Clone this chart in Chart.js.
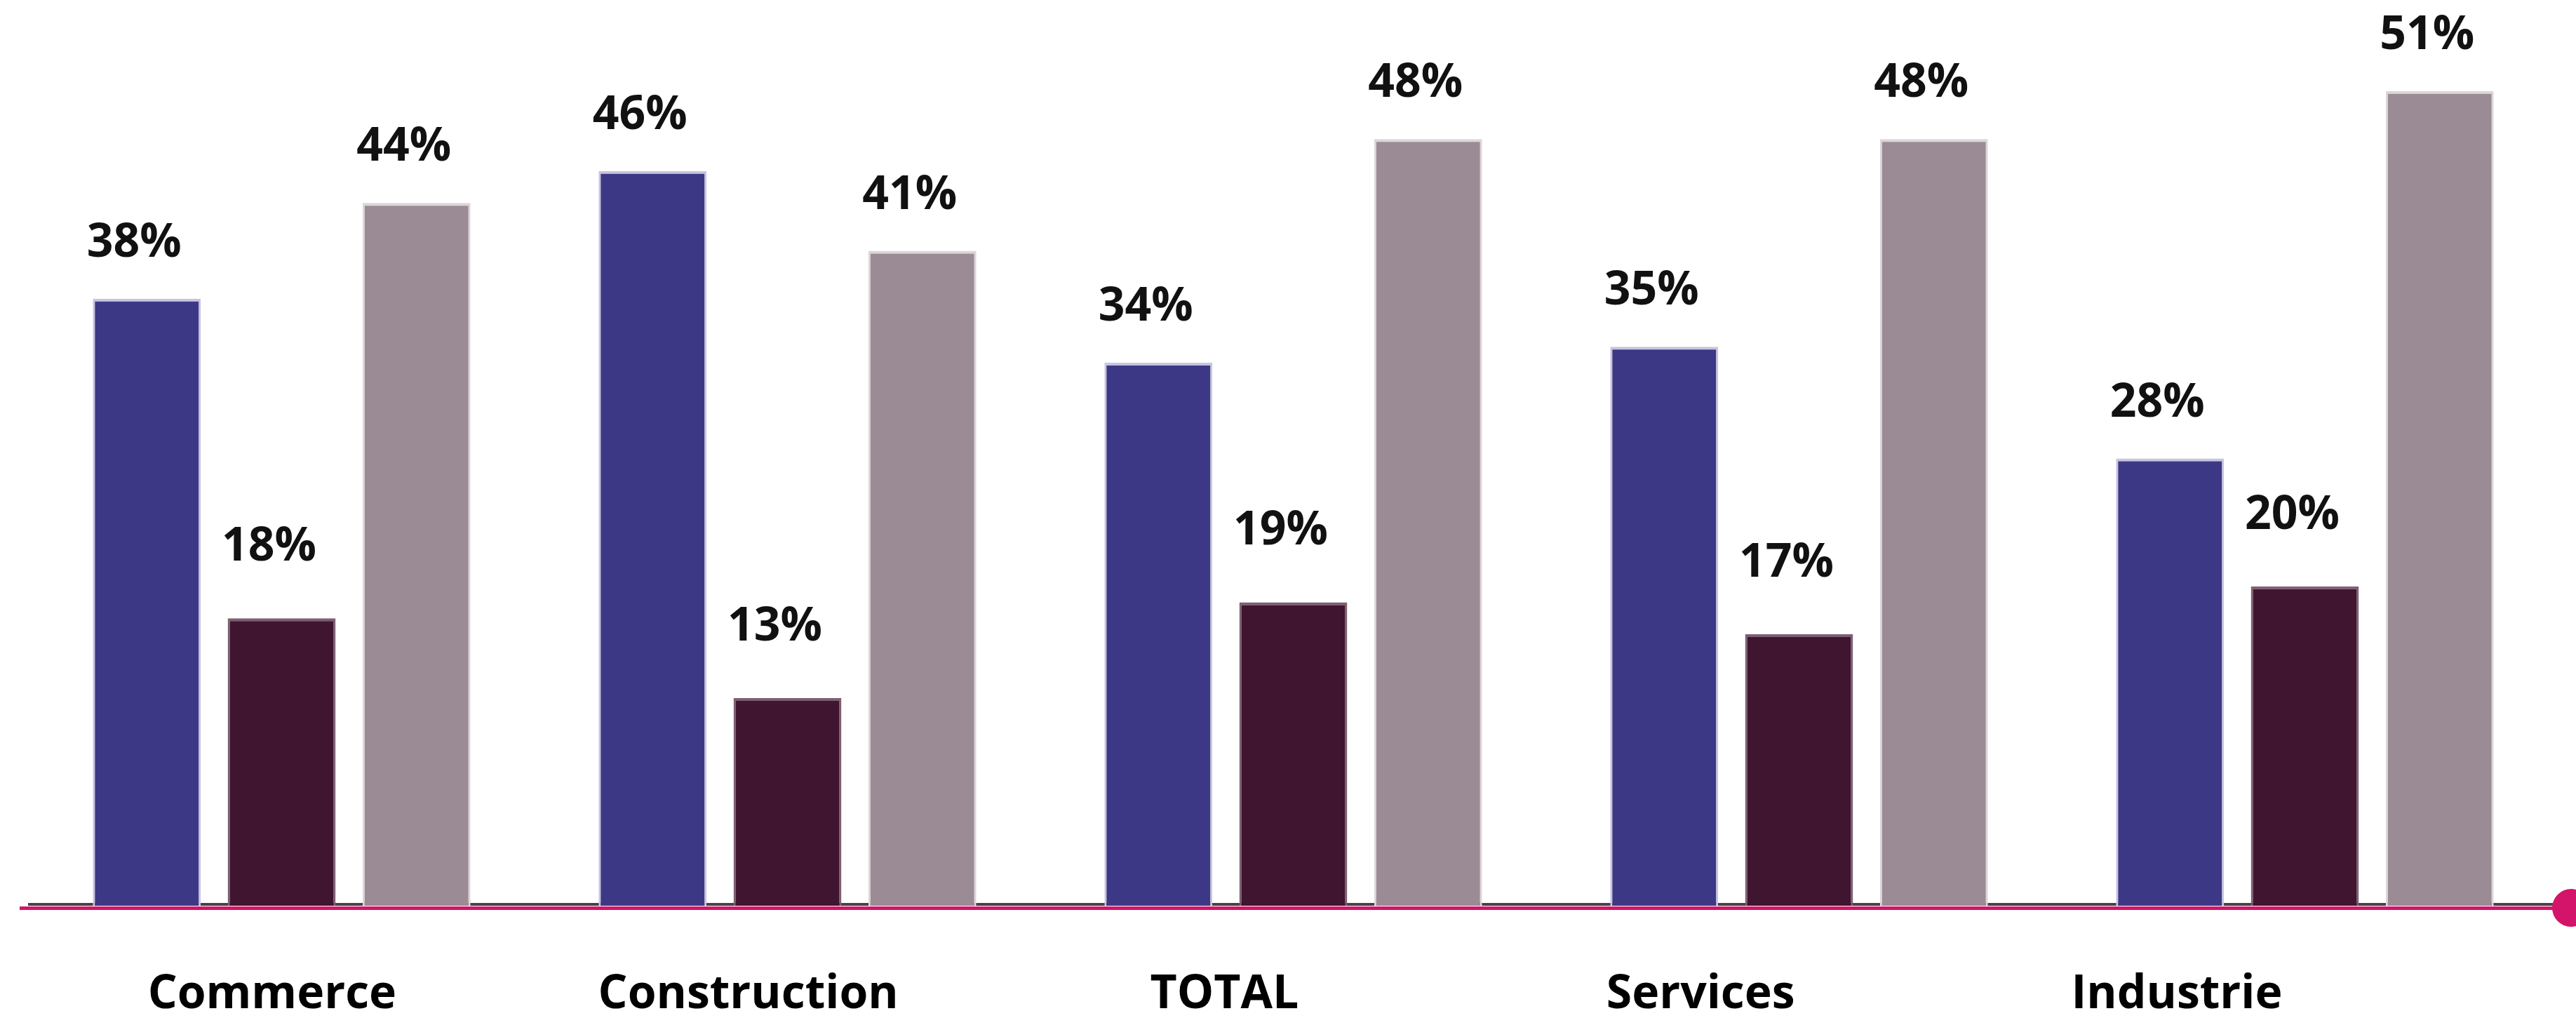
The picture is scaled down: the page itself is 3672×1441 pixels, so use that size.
<!DOCTYPE html>
<html>
<head>
<meta charset="utf-8">
<script src="https://cdn.jsdelivr.net/npm/chart.js@4"></script>
<style>
  html, body { margin: 0; padding: 0; background: #fff; }
  #wrap { width: 3672px; height: 1441px; position: relative; }
</style>
</head>
<body>
<div id="wrap"><canvas id="chart"></canvas></div>
<script>
const categories = ['Commerce', 'Construction', 'TOTAL', 'Services', 'Industrie'];
const seriesA = [38, 46, 34, 35, 28];
const seriesB = [18, 13, 19, 17, 20];
const seriesC = [44, 41, 48, 48, 51];

const labelFont = '700 66px "Open Sans", sans-serif';

// axis lines under the bars, pink rule with end dot
const axisLines = {
  id: 'axisLines',
  beforeDatasetsDraw(chart) {
    const { ctx, chartArea } = chart;
    ctx.save();
    ctx.fillStyle = '#444444';
    ctx.fillRect(chartArea.left - 1, chartArea.bottom - 4, chartArea.right - chartArea.left - 6, 4);
    ctx.restore();
  },
  afterDatasetsDraw(chart) {
    const { ctx, chartArea } = chart;
    ctx.save();
    ctx.fillStyle = '#d4146a';
    ctx.fillRect(chartArea.left - 13, chartArea.bottom + 1, chartArea.right - chartArea.left + 40, 5);
    ctx.beginPath();
    ctx.arc(chartArea.right + 19, chartArea.bottom + 3, 27, 0, Math.PI * 2);
    ctx.fill();
    ctx.restore();
  }
};

// value labels above each bar
const valueLabels = {
  id: 'valueLabels',
  afterDatasetsDraw(chart) {
    const { ctx } = chart;
    ctx.save();
    ctx.font = labelFont;
    ctx.fillStyle = '#111111';
    ctx.textAlign = 'center';
    ctx.textBaseline = 'alphabetic';
    chart.data.datasets.forEach((ds, i) => {
      const gap = ds.labelGap || 60;
      chart.getDatasetMeta(i).data.forEach((bar, j) => {
        ctx.fillText(`${ds.data[j]}%`, bar.x - 18, bar.y - gap);
      });
    });
    ctx.restore();
  }
};

const barStyle = {
  barPercentage: 0.8,
  categoryPercentage: 0.8,
  borderWidth: { top: 4, left: 3, right: 3, bottom: 0 }
};

new Chart(document.getElementById('chart'), {
  type: 'bar',
  data: {
    labels: categories,
    datasets: [
      { ...barStyle, data: seriesA, backgroundColor: '#3d3885', borderColor: '#c7c4e0' },
      { ...barStyle, data: seriesB, backgroundColor: '#40152f', borderColor: '#7d5f72', labelGap: 82 },
      { ...barStyle, data: seriesC, backgroundColor: '#9b8b94', borderColor: '#dcd5d9' }
    ]
  },
  options: {
    animation: false,
    responsive: true,
    maintainAspectRatio: false,
    devicePixelRatio: 1,
    layout: { padding: { left: 41, right: 26, top: 16, bottom: 0 } },
    plugins: { legend: { display: false }, tooltip: { enabled: false } },
    scales: {
      x: { display: false },
      // category names sit a little left of each group, as in the original
      names: {
        type: 'linear',
        position: 'bottom',
        offset: false,
        min: -0.511,
        max: 4.8,
        afterBuildTicks: (scale) => { scale.ticks = categories.map((_, i) => ({ value: i })); },
        afterFit: (scale) => { scale.height = 150; scale.paddingLeft = 0; scale.paddingRight = 0; },
        grid: { display: false, offset: false },
        border: { display: false },
        ticks: {
          padding: 80,
          color: '#000000',
          font: { family: '"Open Sans", sans-serif', size: 66, weight: '700' },
          maxRotation: 0,
          autoSkip: false,
          callback: (v) => categories[v] || ''
        }
      },
      y: {
        display: false,
        min: 0,
        max: 56
      }
    }
  },
  plugins: [axisLines, valueLabels]
});
</script>
</body>
</html>
